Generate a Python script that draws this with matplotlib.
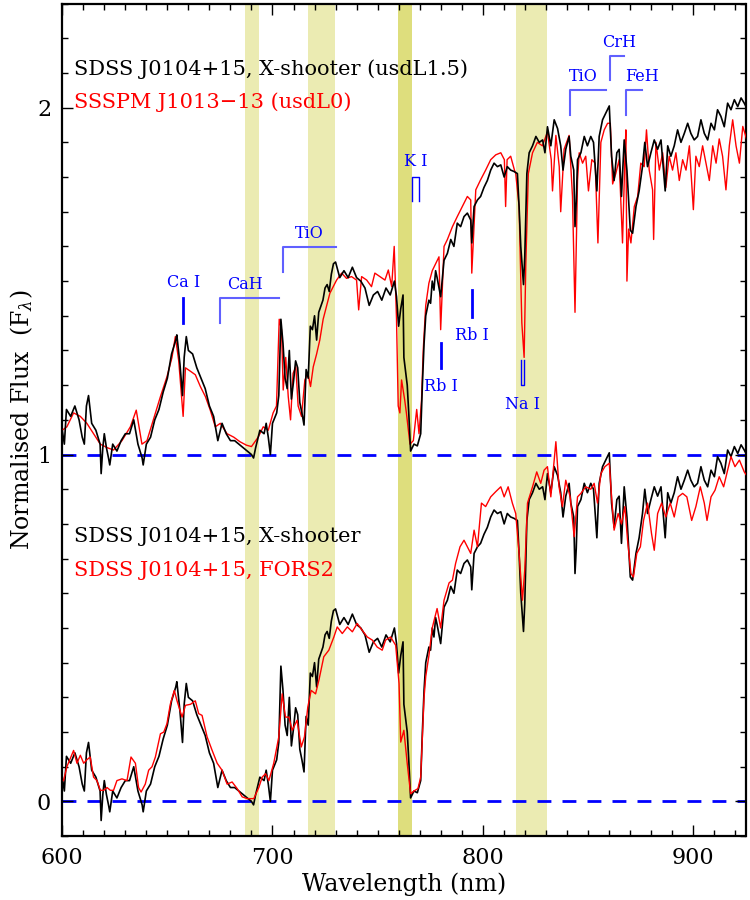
import numpy as np
import matplotlib
matplotlib.use("Agg")
import matplotlib.pyplot as plt

plt.rcParams["font.family"] = ["DejaVu Serif"]
plt.rcParams["mathtext.fontset"] = "dejavuserif"

# X-shooter spectrum of SDSS J0104+15 (normalised)
wl_xs = [600, 601, 602, 604, 606, 608, 609.5, 610.5, 611.5, 612.5, 614, 616, 618, 618.5, 619.3,
         620, 621, 622, 622.6, 624, 626, 628, 630, 632, 634, 636, 638, 638.5, 640, 642, 644,
         646, 648, 650, 652, 654, 654.5, 656, 657.2, 658, 659, 660, 662, 664, 666, 668, 670,
         672, 674, 676, 678, 680, 682, 684, 686, 688, 690, 691, 692, 694, 696, 697, 698, 699,
         700, 702, 703, 704, 705, 706, 707, 708, 709, 710, 711, 712, 713, 714, 715, 716, 717,
         718, 719, 720, 721, 722, 724, 725, 726, 727, 728, 729, 730, 732, 734, 736, 738, 740,
         742, 744, 746, 748, 750, 752, 754, 756, 758, 759, 760, 761, 762.1, 762.5, 764.1,
         764.9, 765.7, 767.3, 768.9, 770.5, 771.3, 772.1, 772.9, 774.4, 775.2, 776, 776.8,
         777.6, 778.3, 780, 781.6, 783.2, 784.8, 786.3, 787.9, 789.5, 791.1, 792.7, 794.3,
         794.8, 795.9, 797.5, 799, 800.6, 802.2, 803.8, 805.4, 807, 808.6, 810.2, 811.7, 813.3,
         814.9, 816.5, 817.3, 818.1, 819.4, 820, 821, 822.1, 823.7, 825.3, 826.9, 828.5, 829.6,
         830.8, 832.4, 834, 835.6, 837.1, 838.2, 839.5, 841.1, 841.9, 843.3, 843.9, 844.5,
         845.1, 846.7, 848.3, 849.8, 851.4, 852.7, 854.3, 855.4, 857, 858.6, 860.2, 861.3,
         862.5, 863.8, 864.9, 866, 867.3, 868.6, 870.2, 871.3, 872.9, 874.4, 876, 877.1, 878.4,
         880, 881.6, 883.2, 884.8, 886.8, 888, 889.5, 891.1, 892.7, 894.3, 895.9, 897.5, 899,
         900.6, 902.2, 903.8, 905.4, 907, 908.6, 910.2, 911.7, 913.3, 914.9, 916.5, 918.1,
         919.7, 921.3, 922.9, 924.4, 925.5]
fx_xs = [0.07, 0.03, 0.13, 0.11, 0.14, 0.10, 0.05, 0.03, 0.14, 0.17, 0.09, 0.07, 0.03, -0.055, 0.02,
         0.06, 0.02, -0.01, -0.03, 0.03, 0.01, 0.04, 0.06, 0.06, 0.10, 0.03, -0.01, -0.03, 0.03, 0.05, 0.10,
         0.13, 0.18, 0.22, 0.29, 0.33, 0.345, 0.26, 0.17, 0.28, 0.34, 0.30, 0.29, 0.25, 0.22, 0.19, 0.14,
         0.11, 0.04, 0.09, 0.06, 0.04, 0.04, 0.03, 0.02, 0.01, 0.00, -0.01, 0.02, 0.07, 0.06, 0.09, 0.05, 0.00,
         0.09, 0.12, 0.17, 0.39, 0.32, 0.22, 0.19, 0.30, 0.16, 0.21, 0.27, 0.25, 0.15, 0.12, 0.085, 0.245, 0.22,
         0.37, 0.36, 0.40, 0.33, 0.41, 0.445, 0.48, 0.49, 0.47, 0.52, 0.55, 0.555, 0.51, 0.53, 0.51, 0.54, 0.51,
         0.50, 0.48, 0.43, 0.46, 0.47, 0.445, 0.48, 0.46, 0.50, 0.455, 0.37, 0.42, 0.46, 0.28, 0.20,
         0.11, 0.01, 0.03, 0.025, 0.06, 0.20, 0.32, 0.40, 0.445, 0.436, 0.50, 0.474,
         0.53, 0.51, 0.455, 0.56, 0.58, 0.62, 0.60, 0.667, 0.657, 0.686, 0.696, 0.676,
         0.61, 0.715, 0.734, 0.744, 0.77, 0.79, 0.82, 0.84, 0.83, 0.835, 0.80, 0.83, 0.82,
         0.816, 0.81, 0.715, 0.60, 0.49, 0.57, 0.81, 0.87, 0.89, 0.917, 0.90, 0.907, 0.87,
         0.945, 0.89, 0.965, 0.94, 0.89, 0.82, 0.88, 0.917, 0.86, 0.82, 0.657, 0.73,
         0.85, 0.87, 0.917, 0.89, 0.917, 0.90, 0.76, 0.917, 0.965, 0.985, 1.005, 0.86,
         0.79, 0.87, 0.88, 0.744, 0.907, 0.82, 0.647, 0.638, 0.715, 0.76, 0.83, 0.90, 0.83,
         0.87, 0.907, 0.88, 0.907, 0.76, 0.89, 0.86, 0.89, 0.936, 0.90, 0.926, 0.955, 0.926,
         0.907, 0.917, 0.965, 0.926, 0.907, 0.955, 0.936, 0.994, 0.975, 0.945, 1.013, 0.994,
         1.023, 1.003, 1.028, 1.013, 1.0]

# FORS2 spectrum of SDSS J0104+15
wl_fors = [600.6, 602.2, 605.4, 607, 608.6, 610.2, 611.7, 613.3, 614.9, 616.5, 618.1, 619.7, 621.3,
           622.9, 624.4, 626, 628.4, 630.8, 632.7, 634.8, 636.3, 637.5, 639.5, 641.1, 642.7, 644.3,
           646.7, 648.3, 649.8, 651.4, 653.3, 654.6, 657, 658.6, 661, 663.3, 664.9, 666.5, 668.9,
           671.3, 673.7, 676, 678.4, 680.8, 683.2, 685.6, 688, 691.1, 693.5, 695.1, 696.7, 698.3,
           700.6, 703, 704.6, 706.2, 707.8, 709.4, 711.7, 713.7, 715.2, 716.8, 718.4, 720.5, 722.1,
           724.4, 726.8, 729.2, 730.8, 733.2, 735.6, 738, 740.3, 742.7, 745.1, 747.5, 749.8, 752.2,
           753.8, 756.2, 758.6, 760.2, 761, 762.5, 764.1, 765.7, 767.3, 769.2, 770.5, 772.1, 772.9,
           774.4, 776, 776.8, 778.3, 780, 781.6, 784, 785.6, 787.1, 789.2, 791.1, 792.7, 794.3,
           795.9, 797.5, 799.4, 801.4, 803.8, 806.2, 808.6, 810.2, 812.1, 814.1, 815.7, 817.3,
           818.9, 820, 821.3, 823.7, 825.7, 827.6, 829.2, 830.8, 832.4, 834.8, 836.3, 837.9, 839.5,
           841.6, 843.5, 845.1, 846.7, 849, 851.4, 853, 854.6, 856.2, 858.1, 860.2, 861.3, 862.5,
           864.4, 866, 867.6, 868.9, 870.5, 871.7, 873.3, 875, 876.5, 878.4, 880.3, 881.6, 883.2,
           885.1, 887.1, 889.2, 891.1, 893, 895.1, 897.1, 899.4, 901.4, 903.5, 905.4, 906.7, 908.6,
           910.5, 912.5, 914.6, 916.5, 918.1, 920, 922.1, 924.4, 925.5]
fx_fors = [0.06, 0.10, 0.147, 0.11, 0.133, 0.11, 0.12, 0.128, 0.07, 0.06, 0.032, 0.032, 0.04,
           0.032, 0.032, 0.06, 0.065, 0.06, 0.128, 0.11, 0.04, 0.027, 0.05, 0.09, 0.10, 0.128,
           0.195, 0.20, 0.224, 0.28, 0.32, 0.29, 0.243, 0.277, 0.28, 0.29, 0.253, 0.248, 0.186,
           0.147, 0.11, 0.09, 0.05, 0.056, 0.037, 0.013, 0.008, 0.008, 0.04, 0.07, 0.08, 0.06,
           0.11, 0.186, 0.31, 0.243, 0.243, 0.205, 0.234, 0.157, 0.186, 0.272, 0.32, 0.31, 0.35,
           0.417, 0.436, 0.474, 0.503, 0.484, 0.503, 0.489, 0.513, 0.493, 0.474, 0.465, 0.445, 0.436,
           0.465, 0.474, 0.45, 0.34, 0.171, 0.205, 0.109, 0.022, 0.03, 0.037, 0.07, 0.30, 0.36,
           0.42, 0.50, 0.52, 0.556, 0.50, 0.58, 0.63, 0.638, 0.686, 0.734, 0.753, 0.734, 0.715,
           0.782, 0.734, 0.86, 0.85, 0.878, 0.893, 0.907, 0.878, 0.907, 0.86, 0.83, 0.715,
           0.58, 0.667, 0.86, 0.907, 0.95, 0.917, 0.955, 0.965, 0.878, 1.037, 0.907, 0.85, 0.926,
           0.878, 0.763, 0.878, 0.888, 0.907, 0.90, 0.917, 0.86, 0.945, 0.965, 0.975, 0.878, 0.782,
           0.83, 0.80, 0.85, 0.753, 0.657, 0.647, 0.715, 0.734, 0.81, 0.86, 0.772, 0.724, 0.83,
           0.86, 0.82, 0.86, 0.82, 0.878, 0.888, 0.878, 0.81, 0.85, 0.907, 0.86, 0.81, 0.878,
           0.897, 0.936, 0.907, 0.955, 0.994, 0.965, 0.984, 0.95, 0.94]

# SSSPM J1013-13 spectrum (usdL0)
wl_sss = [600, 602.2, 605.4, 608.6, 611.7, 614.9, 618.1, 621.3, 624.4, 628.4, 632.4, 635.2, 637.9,
          640.3, 644.3, 646.7, 649.8, 652.2, 653.8, 655.4, 657.5, 658.6, 661, 663.3, 665.7, 668.1,
          670.4, 672.8, 675.2, 678.4, 681.6, 684.5, 687.6, 690, 693.2, 695.6, 698, 700.3, 701.9,
          703.2, 704.3, 705.1, 706.3, 707.5, 708.6, 709.8, 711.1, 712.2, 713.8, 715.4, 716.9,
          718.1, 719.4, 721, 722.5, 724.1, 725.7, 727.3, 728.9, 730.5, 732.9, 735.2, 737.6, 740,
          741, 742.4, 744.8, 747.1, 748.7, 751.1, 753.5, 755.1, 756.7, 757.9, 759, 759.8, 760.6,
          761.4, 762.9, 763.7, 765.4, 767, 768.6, 769.7, 770.9, 771.7, 772.9, 774.4, 776, 777.6,
          779.2, 780, 781.6, 783.2, 785.6, 787.9, 790.3, 792.7, 794.3, 794.8, 796.7, 799, 801.4,
          803.8, 806.2, 808.6, 810.3, 810.9, 811.6, 813.3, 815.1, 815.7, 817.3, 818.6, 819.7,
          820.5, 821.7, 823.7, 826, 828.4, 830.8, 832.6, 833.2, 834.8, 836.4, 837.1, 838.7, 841.1,
          842.7, 843.9, 845.1, 845.9, 847.5, 849, 850.3, 851.9, 853.5, 854.8, 856.2, 857.8,
          859.4, 860.7, 861.8, 863.3, 864.9, 866.5, 867.6, 868.1, 868.6, 869.4, 870.5, 872.1,
          873.7, 875.2, 876.8, 877.9, 879.2, 880.8, 881.3, 882.4, 884, 885.6, 887.1, 888.7, 890.3,
          891.9, 893.5, 895.1, 896.7, 898.3, 900.2, 901.4, 903, 904.6, 906.2, 907.8, 909.4, 911,
          912.5, 914.1, 915.7, 917.3, 918.9, 920.5, 922.1, 923.7, 925.5]
fx_sss = [0.07, 0.08, 0.12, 0.11, 0.09, 0.06, 0.03, 0.02, 0.013, 0.04, 0.08, 0.128, 0.03,
          0.04, 0.12, 0.167, 0.224, 0.28, 0.34, 0.27, 0.11, 0.25, 0.24, 0.23, 0.196, 0.167,
          0.128, 0.08, 0.09, 0.06, 0.05, 0.037, 0.027, 0.023, 0.05, 0.08, 0.07, 0.12, 0.14,
          0.39, 0.36, 0.186, 0.28, 0.167, 0.10, 0.234, 0.253, 0.14, 0.11, 0.215, 0.234,
          0.196, 0.253, 0.29, 0.33, 0.39, 0.427, 0.465, 0.484, 0.503, 0.523, 0.508, 0.513, 0.503,
          0.417, 0.513, 0.503, 0.484, 0.523, 0.513, 0.503, 0.532, 0.484, 0.60, 0.39, 0.14, 0.12,
          0.215, 0.157, 0.12, 0.03, 0.04, 0.13, 0.06, 0.157, 0.30, 0.43, 0.494, 0.53, 0.55,
          0.57, 0.36, 0.60, 0.62, 0.657, 0.686, 0.715, 0.744, 0.734, 0.523, 0.763, 0.792, 0.82,
          0.85, 0.864, 0.87, 0.85, 0.715, 0.85, 0.86, 0.82, 0.81, 0.715, 0.38, 0.28,
          0.55, 0.81, 0.87, 0.90, 0.89, 0.93, 0.85, 0.76, 0.92, 0.83, 0.70, 0.88, 0.92,
          0.744, 0.41, 0.79, 0.87, 0.84, 0.86, 0.76, 0.85, 0.84, 0.61, 0.90, 0.936,
          0.955, 0.955, 0.78, 0.81, 0.85, 0.61, 0.85, 0.936, 0.50, 0.65, 0.61, 0.715,
          0.744, 0.84, 0.83, 0.936, 0.82, 0.763, 0.62, 0.90, 0.82, 0.87, 0.77, 0.86, 0.82,
          0.87, 0.79, 0.85, 0.82, 0.89, 0.706, 0.86, 0.83, 0.89, 0.84, 0.79, 0.89, 0.84,
          0.91, 0.86, 0.763, 0.89, 0.965, 0.89, 0.84, 0.946, 0.91]

# telluric bands (nm); the A band is drawn darker
bands = [(686.7, 693.8), (716.8, 729.7), (815.7, 830.8)]
band_a = (759.7, 766.5)

# feature labels
single_lines = [("Ca I", 657.5, 1.38, 1.452, "above"), ("Rb I", 780.0, 1.25, 1.322, "below"),
                ("Rb I", 794.7, 1.397, 1.475, "below")]
brackets = [("CaH", 675.2, 703.3, 1.38, 1.452, 687.0), ("TiO", 705.2, 730.3, 1.527, 1.599, 717.5),
            ("TiO", 841.3, 858.6, 1.98, 2.05, 848.0), ("CrH", 860.5, 867.3, 2.079, 2.148, 864.8),
            ("FeH", 868.3, 875.6, 1.98, 2.05, 875.7)]
doublets = [("K I", 766.5, 769.9, 1.73, 1.80, "top"), ("Na I", 818.3, 819.5, 1.20, 1.273, "bottom")]

fig = plt.figure(figsize=(7.5, 9), dpi=100)
ax = fig.add_axes([0.083, 0.071, 0.911, 0.925])

for lo, hi in bands:
    ax.axvspan(lo, hi, color="y", alpha=0.3, lw=0, zorder=0)
ax.axvspan(*band_a, color="y", alpha=0.51, lw=0, zorder=0)

for off in (0, 1):
    ax.axhline(off, color="b", lw=2, dashes=(5, 4), zorder=1)

ax.plot(wl_fors, fx_fors, color="r", lw=1.0, zorder=3)
ax.plot(wl_xs, fx_xs, color="k", lw=1.2, zorder=2)
ax.plot(wl_sss, np.array(fx_sss) + 1, color="r", lw=1.0, zorder=3)
ax.plot(wl_xs, np.array(fx_xs) + 1, color="k", lw=1.2, zorder=4)

fs_lab = 11.5
for name, x, y0, y1, pos in single_lines:
    ax.plot([x, x], [y0, y1], color="b", lw=2, zorder=5)
    if pos == "above":
        ax.text(x, y1 + 0.02, name, color="b", fontsize=fs_lab, ha="center", va="bottom")
    else:
        ax.text(x, y0 - 0.03, name, color="b", fontsize=fs_lab, ha="center", va="top")

for name, x0, x1, y0, y1, xt in brackets:
    ax.plot([x0, x0, x1], [y0, y1, y1], color="#6060ff", lw=1.5, zorder=5)
    ax.text(xt, y1 + 0.015, name, color="b", fontsize=fs_lab, ha="center", va="bottom")

for name, x0, x1, y0, y1, joint in doublets:
    if joint == "top":
        ax.plot([x0, x0, x1, x1], [y0, y1, y1, y0], color="b", lw=1, zorder=5)
        ax.text((x0 + x1) / 2, y1 + 0.02, name, color="b", fontsize=fs_lab, ha="center", va="bottom")
    else:
        ax.plot([x0, x0, x1, x1], [y1, y0, y0, y1], color="b", lw=1, zorder=5)
        ax.text((x0 + x1) / 2, y0 - 0.03, name, color="b", fontsize=fs_lab, ha="center", va="top")

fs_leg = 15
ax.text(605.4, 2.095, "SDSS J0104+15, X-shooter (usdL1.5)", color="k", fontsize=fs_leg)
ax.text(605.4, 2.0, "SSSPM J1013\u221213 (usdL0)", color="r", fontsize=fs_leg)
ax.text(605.4, 0.748, "SDSS J0104+15, X-shooter", color="k", fontsize=fs_leg)
ax.text(605.4, 0.65, "SDSS J0104+15, FORS2", color="r", fontsize=fs_leg)

ax.set_xlim(600, 925)
ax.set_ylim(-0.1, 2.3)
ax.set_xticks([600, 700, 800, 900])
ax.set_xticks(np.arange(600, 926, 10), minor=True)
ax.set_yticks([0, 1, 2])
ax.set_yticks(np.arange(-0.1, 2.31, 0.1), minor=True)
ax.tick_params(which="both", direction="in", top=True, right=True, labelsize=16, width=1)
ax.tick_params(which="major", length=8, pad=8)
ax.tick_params(which="minor", length=4)
for s in ax.spines.values():
    s.set_linewidth(1.6)
ax.set_xlabel("Wavelength (nm)", fontsize=17, labelpad=2)
ax.set_ylabel(r"Normalised Flux  (F$_\lambda$)", fontsize=17, labelpad=1)

fig.savefig("out.png", dpi=100)
